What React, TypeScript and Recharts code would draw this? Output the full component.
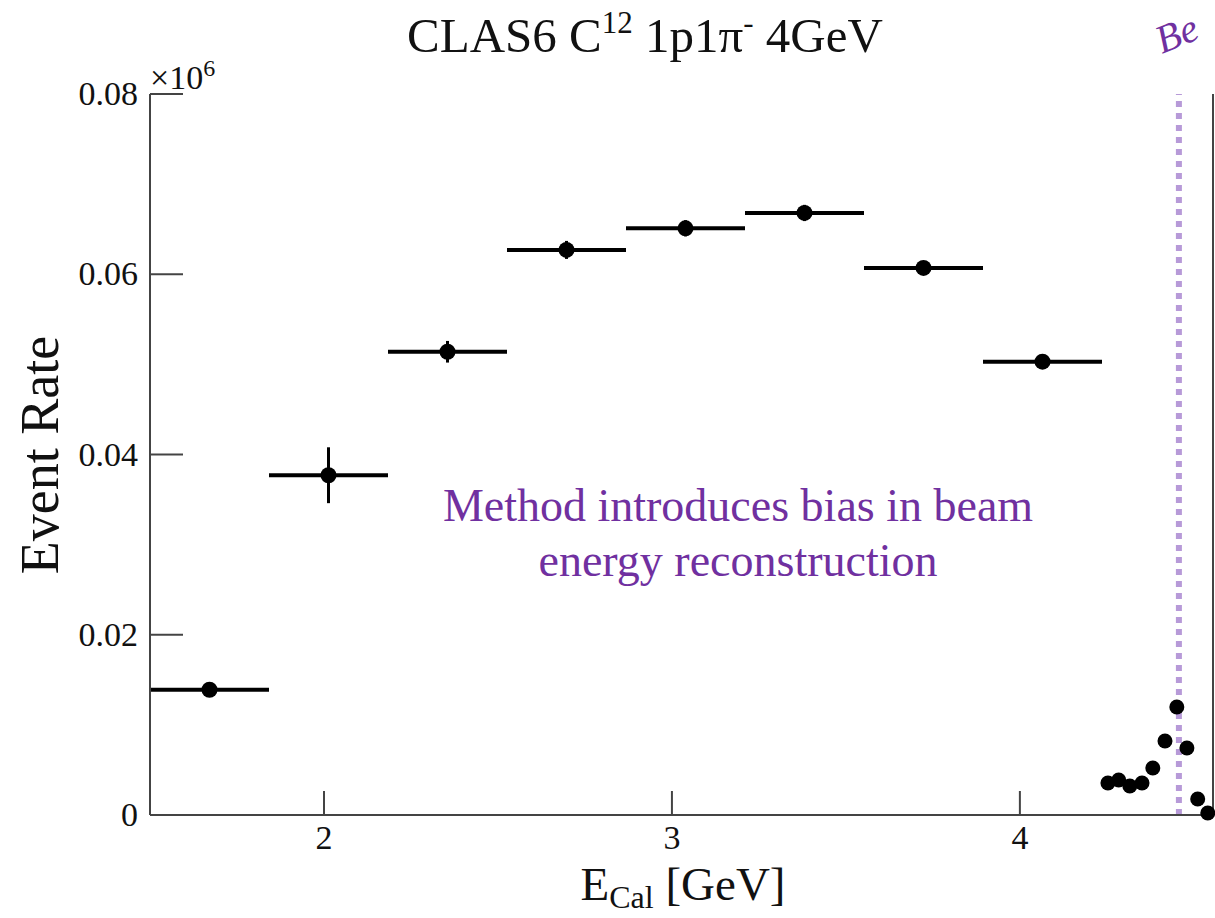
import React from "react";
import {
  ComposedChart,
  Scatter,
  XAxis,
  YAxis,
  ErrorBar,
  ReferenceLine,
} from "recharts";

// Wide calorimetric-energy bins (GeV) with event rates (x10^6)
const binCenters = [1.671, 2.013, 2.355, 2.697, 3.039, 3.381, 3.723, 4.065];
const binRates = [0.0139, 0.0377, 0.0514, 0.0627, 0.0651, 0.0668, 0.0607, 0.0503];
const binHalfWidths = [0.171, 0.171, 0.171, 0.171, 0.171, 0.171, 0.171, 0.171];
const binRateErrors = [0.0004, 0.0031, 0.0012, 0.001, 0.0009, 0.0009, 0.0004, 0.0004];

// Fine bins near the beam energy
const tailEnergies = [4.253, 4.284, 4.316, 4.351, 4.382, 4.417, 4.451, 4.48, 4.511, 4.54];
const tailRates = [0.00355, 0.00388, 0.00322, 0.00355, 0.00522, 0.00821, 0.01198, 0.00743, 0.00178, 0.00022];

// Axis ticks and the beam-energy marker
const xTicks = [2, 3, 4];
const yTicks = [0, 0.02, 0.04, 0.06, 0.08];
const xDomain = [1.5, 4.555];
const yDomain = [0, 0.08];
const beamEnergy = 4.457;

const wideBins = binCenters.map((e, i) => ({
  x: e,
  y: binRates[i],
  xErr: binHalfWidths[i],
  yErr: binRateErrors[i],
}));
const tailBins = tailEnergies.map((e, i) => ({ x: e, y: tailRates[i] }));

const SERIF = "'Liberation Serif', 'Times New Roman', serif";
const AXIS = "#444";
const PURPLE = "#7030A0";

const fmtY = (v: number) => (v === 0 ? "0" : v.toFixed(2));

const LeftTick = (props: any) => {
  const { x, y, payload } = props;
  return (
    <g>
      <line x1={x} x2={x + 33} y1={y} y2={y} stroke={AXIS} strokeWidth={2} />
      <text
        x={x - 12}
        y={y}
        dy={11}
        textAnchor="end"
        fontFamily={SERIF}
        fontSize={34}
        fill="#111"
      >
        {fmtY(payload.value)}
      </text>
    </g>
  );
};

const RightTick = (props: any) => {
  const { x, y } = props;
  return <line x1={x} x2={x - 30} y1={y} y2={y} stroke={AXIS} strokeWidth={2} />;
};

const BottomTick = (props: any) => {
  const { x, y, payload } = props;
  return (
    <g>
      <line x1={x} x2={x} y1={y} y2={y - 24} stroke={AXIS} strokeWidth={2} />
      <text
        x={x}
        y={y}
        dy={34}
        textAnchor="middle"
        fontFamily={SERIF}
        fontSize={34}
        fill="#111"
      >
        {payload.value}
      </text>
    </g>
  );
};

const BigDot = (props: any) => (
  <circle cx={props.cx} cy={props.cy} r={8} fill="#000" />
);
const SmallDot = (props: any) => (
  <circle cx={props.cx} cy={props.cy} r={7.5} fill="#000" />
);

export default function App() {
  return (
    <div
      style={{
        position: "absolute",
        left: 0,
        top: 0,
        width: 1215,
        height: 918,
        overflow: "hidden",
        background: "#fff",
      }}
    >
      <ComposedChart
        width={1215}
        height={918}
        margin={{ top: 94, right: 0, bottom: 53, left: 90 }}
      >
        <XAxis
          xAxisId={0}
          dataKey="x"
          type="number"
          domain={xDomain}
          ticks={xTicks}
          interval={0}
          height={50}
          tickSize={0}
          tickMargin={0}
          tickLine={false}
          axisLine={{ stroke: AXIS, strokeWidth: 2 }}
          tick={<BottomTick />}
        />
        <XAxis
          xAxisId="top"
          orientation="top"
          type="number"
          domain={xDomain}
          height={0}
          tick={false}
          tickLine={false}
          axisLine={{ stroke: AXIS, strokeWidth: 2 }}
        />
        <YAxis
          yAxisId={0}
          type="number"
          domain={yDomain}
          ticks={yTicks}
          interval={0}
          width={60}
          tickSize={0}
          tickMargin={0}
          tickLine={false}
          axisLine={{ stroke: AXIS, strokeWidth: 2 }}
          tick={<LeftTick />}
        />
        <YAxis
          yAxisId="right"
          orientation="right"
          type="number"
          domain={yDomain}
          ticks={yTicks}
          interval={0}
          width={2}
          tickSize={0}
          tickMargin={0}
          tickLine={false}
          axisLine={{ stroke: AXIS, strokeWidth: 2 }}
          tick={<RightTick />}
        />
        <ReferenceLine
          x={beamEnergy}
          stroke="#b79ad8"
          strokeWidth={6}
          strokeDasharray="6 6"
        />
        <Scatter
          data={wideBins}
          dataKey="y"
          fill="#000"
          shape={<BigDot />}
          isAnimationActive={false}
        >
          <ErrorBar
            dataKey="xErr"
            direction="x"
            width={0}
            stroke="#000"
            strokeWidth={4}
          />
          <ErrorBar
            dataKey="yErr"
            direction="y"
            width={0}
            stroke="#000"
            strokeWidth={3}
          />
        </Scatter>
        <Scatter
          data={tailBins}
          dataKey="y"
          fill="#000"
          shape={<SmallDot />}
          isAnimationActive={false}
        />
      </ComposedChart>

      <svg
        width={1215}
        height={918}
        style={{ position: "absolute", left: 0, top: 0, pointerEvents: "none" }}
      >
        <text x={645} y={52} textAnchor="middle" fontFamily={SERIF} fontSize={49} fill="#111">
          CLAS6 C
          <tspan fontSize={31} dy={-19}>12</tspan>
          <tspan fontSize={49} dy={19}> 1p1π</tspan>
          <tspan fontSize={31} dy={-19}>-</tspan>
          <tspan fontSize={49} dy={19}> 4GeV</tspan>
        </text>
        <text x={150} y={89} fontFamily={SERIF} fontSize={34} fill="#111">
          ×10
          <tspan fontSize={24} dy={-13}>6</tspan>
        </text>
        <text
          x={58}
          y={455}
          transform="rotate(-90, 58, 455)"
          textAnchor="middle"
          fontFamily={SERIF}
          fontSize={54}
          fill="#111"
        >
          Event Rate
        </text>
        <text x={683} y={900} textAnchor="middle" fontFamily={SERIF} fontSize={47} fill="#111">
          E
          <tspan fontSize={32} dy={8}>Cal</tspan>
          <tspan fontSize={47} dy={-8}> [GeV]</tspan>
        </text>
        <text x={738} y={521} textAnchor="middle" fontFamily={SERIF} fontSize={46} fill={PURPLE}>
          Method introduces bias in beam
        </text>
        <text x={738} y={576} textAnchor="middle" fontFamily={SERIF} fontSize={46} fill={PURPLE}>
          energy reconstruction
        </text>
        <text
          x={1162}
          y={54}
          transform="rotate(-22, 1162, 54)"
          fontFamily={SERIF}
          fontStyle="italic"
          fontSize={40}
          fill={PURPLE}
        >
          Be
        </text>
      </svg>
    </div>
  );
}
